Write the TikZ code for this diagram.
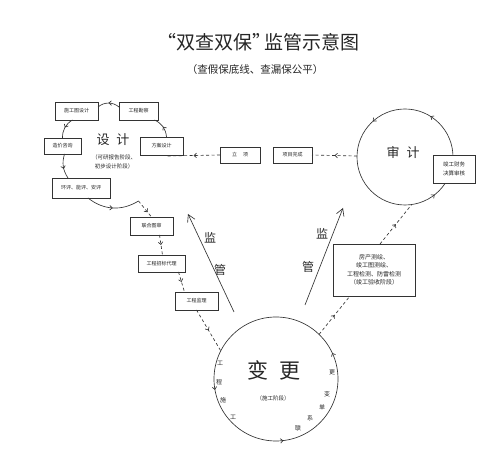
\documentclass[tikz,border=0pt]{standalone}
\usepackage{fontspec}
\newfontfamily\cjk{Noto Sans CJK SC}
\usetikzlibrary{arrows.meta,decorations.markings,calc}
\tikzset{
  every node/.style={font=\cjk, text=black!85},
  box/.style={draw=black!80, line width=0.65pt, fill=white, inner sep=0pt, outer sep=0pt,
    font=\cjk\fontsize{5}{6}\selectfont, minimum height=18pt},
  ln/.style={draw=black!80, line width=0.65pt},
  dsh/.style={ln, dash pattern=on 3pt off 2.5pt},
  midarrow/.style={postaction={decorate}, decoration={markings,
    mark=at position #1 with {\arrow{Straight Barb[length=2.5pt,width=4.5pt]}}}},
  midarrow/.default=0.5,
  ring/.style={circle, inner sep=0pt, outer sep=0pt},
  rimchar/.style={font=\cjk\fontsize{6}{7}\selectfont, inner sep=0pt},
  jian/.style={font=\cjk\fontsize{12}{14}\selectfont, inner sep=0pt},
  bigarrow/.style={ln, -{Straight Barb[length=7pt,width=8pt]}}
}
\begin{document}
\begin{tikzpicture}[x=1pt,y=1pt]
\useasboundingbox[fill=white] (0,0) rectangle (500,457);

% title
\node (title) at (258,415) {\fontsize{19}{22}\selectfont “双查双保”\kern-7pt 监管示意图};
\node (subtitle) at (255,387) {\fontsize{10.5}{12}\selectfont （查假保底线、查漏保公平）};

% design loop
\node[box, minimum width=43pt] (sgt) at (76.5,346) {施工图设计};
\node[box, minimum width=39pt] (gckc) at (138.5,346) {工程勘察};
\node[box, minimum width=43pt] (fasj) at (161.5,311) {方案设计};
\node[box, minimum width=37pt, minimum height=16pt] (zjzx) at (62.5,311) {造价咨询};
\node[box, minimum width=58pt, minimum height=20pt] (hp) at (81,269) {环评、能评、安评};
\node[inner sep=0pt] (sjlabel) at (113,317) {\fontsize{13}{15}\selectfont 设\hspace{7pt}计};
\node[inner sep=0pt, align=center, font=\cjk\fontsize{5.5}{9}\selectfont] (sjnote) at (114,295.5) {（可研报告阶段、\\初步设计阶段）};
\coordinate (arcend) at (138.5,256);

\draw[ln, midarrow] ([yshift=4pt]gckc.west) to[bend right=40] ([yshift=4pt]sgt.east);
\draw[ln, midarrow] ([xshift=-4pt]sgt.south) to[bend right=30] (zjzx.north);
\draw[ln, midarrow=0.6] ([xshift=2pt]zjzx.south) to[bend right=25] ([xshift=-13pt]hp.north);
\draw[ln, midarrow] ([xshift=7pt]hp.south) to[bend right=35] (arcend);
\draw[ln, midarrow] ([xshift=5pt]fasj.north) to[bend right=30] ([xshift=16pt]gckc.south);

% left chain
\node[box, minimum width=43pt] (lhts) at (151.5,231) {联合图审};
\node[box, minimum width=47pt, minimum height=17pt] (gczb) at (161.5,193.5) {工程招标代理};
\node[box, minimum width=43pt] (gcjl) at (196.5,156) {工程监理};
\draw[dsh, midarrow=0.7] (arcend) -- (lhts.north);
\draw[dsh, midarrow] ([xshift=8pt]lhts.south) -- ([xshift=1pt]gczb.north);
\draw[dsh, midarrow] ([xshift=17pt]gczb.south) -- ([xshift=-12pt]gcjl.north);

% middle row
\node[box, minimum width=40pt, minimum height=16pt] (lx) at (240,302) {立\hspace{6pt}项};
\node[box, minimum width=39pt, minimum height=16pt] (xmwc) at (292.5,302) {项目完成};
\coordinate (dashleft) at (167,301);

% audit circle
\node[ring, minimum size=96pt] (sjc) at (405,300) {};
\draw[ln, postaction={decorate}, decoration={markings,
  mark=at position 0.161 with {\arrow{Straight Barb[length=2.5pt,width=4.5pt]}},
  mark=at position 0.367 with {\arrow{Straight Barb[length=2.5pt,width=4.5pt]}},
  mark=at position 0.856 with {\arrow{Straight Barb[length=2.5pt,width=4.5pt]}}}]
  (sjc.center) circle[radius=48];
\node[inner sep=0pt] (sjt) at (403,304) {\fontsize{13}{15}\selectfont 审\hspace{7pt}计};
\node[box, minimum width=42pt, minimum height=28pt, align=center, font=\cjk\fontsize{5.5}{9}\selectfont] (jgcw) at (454,288) {竣工财务\\决算审核};

\draw[dsh, midarrow] ([yshift=1pt]sjc.west) -- (xmwc.east);
\draw[dsh, midarrow] (lx.west) -- (dashleft);

% survey box
\node[box, minimum width=82pt, minimum height=52pt, align=center, font=\cjk\fontsize{6}{8.5}\selectfont] (fc) at (374,187) {房产测绘、\\竣工图测绘、\\工程检测、防雷检测\\（竣工验收阶段）};

% change circle
\node[ring, minimum size=124pt] (bg) at (276,78) {};
\draw[ln, postaction={decorate}, decoration={markings,
  mark=at position 0.069 with {\arrow{Straight Barb[length=2.5pt,width=4.5pt]}},
  mark=at position 0.528 with {\arrow{Straight Barb[length=2.5pt,width=4.5pt]}},
  mark=at position 0.769 with {\arrow{Straight Barb[length=2.5pt,width=4.5pt]}}}]
  (bg.center) circle[radius=62];
\node[inner sep=0pt] (bgt) at (274,87) {\fontsize{21}{24}\selectfont 变\hspace{12pt}更};
\node[inner sep=0pt, font=\cjk\fontsize{5.5}{7}\selectfont] (bgnote) at (273,59) {（施工阶段）};
\node[rimchar] (l1) at (220,94) {工};
\node[rimchar] (l2) at (219,75) {程};
\node[rimchar] (l3) at (223,57) {施};
\node[rimchar] (l4) at (233,40) {工};
\node[rimchar] (r1) at (332,85) {更};
\node[rimchar] (r2) at (327,63) {变};
\node[rimchar] (r3) at (322,50) {单};
\node[rimchar] (r4) at (310,39) {系};
\node[rimchar] (r5) at (298,29) {联};

\draw[dsh, midarrow] (gcjl.south) -- (bg.153);
\draw[dsh, midarrow] (bg.46) -- ([xshift=-24pt]fc.south);
\draw[dsh, midarrow] ([xshift=6pt]fc.north) -- (sjc.278);

% supervision arrows
\coordinate (jgL1) at (234,145);
\coordinate (jgL2) at (188,243);
\coordinate (jgR1) at (305,152);
\coordinate (jgR2) at (343,249);
\draw[bigarrow] (jgL1) -- (jgL2);
\draw[bigarrow] (jgR1) -- (jgR2);
\node[jian] (jL1) at (210,219) {监};
\node[jian] (jL2) at (220,187) {管};
\node[jian] (jR1) at (322,223) {监};
\node[jian] (jR2) at (308,190) {管};
\end{tikzpicture}
\end{document}
